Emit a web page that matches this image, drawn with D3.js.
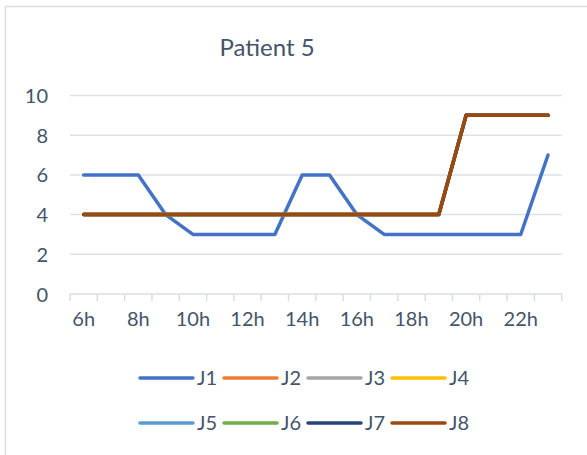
<!DOCTYPE html>
<html>
<head>
<meta charset="utf-8">
<script src="https://cdn.jsdelivr.net/npm/d3@7/dist/d3.min.js"></script>
<style>
  html, body { margin: 0; padding: 0; background: #fff; }
  svg { display: block; }
  text { font-family: Lato, "Open Sans", sans-serif; fill: #44546A; }
</style>
</head>
<body>
<svg id="chart" width="587" height="455"></svg>
<script>
const hours = ["6h","7h","8h","9h","10h","11h","12h","13h","14h","15h","16h","17h","18h","19h","20h","21h","22h","23h"];
const tickLabels = ["6h","8h","10h","12h","14h","16h","18h","20h","22h"];
const yTicks = [0, 2, 4, 6, 8, 10];
const seriesNames = ["J1","J2","J3","J4","J5","J6","J7","J8"];
const seriesColors = ["#4472C4","#ED7D31","#A5A5A5","#FFC000","#5B9BD5","#70AD47","#264478","#9E480E"];
const J1 = [6,6,6,4,3,3,3,3,6,6,4,3,3,3,3,3,3,7];
const J2 = [4,4,4,4,4,4,4,4,4,4,4,4,4,4,9,9,9,9];
const J3 = [4,4,4,4,4,4,4,4,4,4,4,4,4,4,9,9,9,9];
const J4 = [4,4,4,4,4,4,4,4,4,4,4,4,4,4,9,9,9,9];
const J5 = [4,4,4,4,4,4,4,4,4,4,4,4,4,4,9,9,9,9];
const J6 = [4,4,4,4,4,4,4,4,4,4,4,4,4,4,9,9,9,9];
const J7 = [4,4,4,4,4,4,4,4,4,4,4,4,4,4,9,9,9,9];
const J8 = [4,4,4,4,4,4,4,4,4,4,4,4,4,4,9,9,9,9];
const seriesValues = [J1,J2,J3,J4,J5,J6,J7,J8];

const svg = d3.select("#chart");

// chart frame
svg.append("rect")
  .attr("x", 5.5).attr("y", 6.5)
  .attr("width", 600).attr("height", 460)
  .attr("fill", "#fff")
  .attr("stroke", "#D9DDE4").attr("stroke-width", 1.5);

const x = d3.scaleBand().domain(hours).range([70, 561.7]).paddingInner(0).paddingOuter(0);
const y = d3.scaleLinear().domain([0, 10]).range([294, 95.5]);

// gridlines
svg.append("g")
  .selectAll("line")
  .data(yTicks.filter(d => d !== 0))
  .join("line")
  .attr("x1", 70).attr("x2", 561.7)
  .attr("y1", d => y(d)).attr("y2", d => y(d))
  .attr("stroke", "#DDE1E7").attr("stroke-width", 1.5);

// y axis labels
const yAxis = d3.axisLeft(y).tickValues(yTicks).tickSize(0).tickPadding(0);
const yg = svg.append("g").attr("transform", "translate(48,0)").call(yAxis);
yg.select(".domain").remove();
yg.selectAll("text").style("font-size", "20px").attr("fill", "#44546A").attr("dy", "0.35em")
  .style("font-family", "Lato, 'Open Sans', sans-serif");

// x axis line with ticks at band boundaries
const xg = svg.append("g");
xg.append("line")
  .attr("x1", 70).attr("x2", 561.7)
  .attr("y1", 294).attr("y2", 294)
  .attr("stroke", "#D9DDE4").attr("stroke-width", 1.5);
const boundaries = hours.map(h => x(h)).concat([x(hours[hours.length - 1]) + x.bandwidth()]);
xg.selectAll("line.tick")
  .data(boundaries)
  .join("line")
  .attr("class", "tick")
  .attr("x1", d => d).attr("x2", d => d)
  .attr("y1", 294).attr("y2", 301)
  .attr("stroke", "#D9DDE4").attr("stroke-width", 1.5);

// x labels
const xAxis = d3.axisBottom(x).tickValues(tickLabels).tickSize(0).tickPadding(0);
const xag = svg.append("g").attr("transform", "translate(0,312)").call(xAxis);
xag.select(".domain").remove();
xag.selectAll("text").style("font-size", "20px").attr("fill", "#44546A").attr("dy", "0.71em")
  .style("font-family", "Lato, 'Open Sans', sans-serif");

// title
svg.append("text")
  .attr("x", 267).attr("y", 56)
  .attr("text-anchor", "middle")
  .style("font-size", "24px")
  .text("Patient 5");

// lines
const line = d3.line()
  .x((d, i) => x(hours[i]) + x.bandwidth() / 2)
  .y(d => y(d));

svg.append("g")
  .selectAll("path")
  .data(seriesValues)
  .join("path")
  .attr("d", d => line(d))
  .attr("fill", "none")
  .attr("stroke", (d, i) => seriesColors[i])
  .attr("stroke-width", 3.5)
  .attr("stroke-linejoin", "round")
  .attr("stroke-linecap", "round");

// legend
const legend = svg.append("g");
const items = legend.selectAll("g")
  .data(seriesNames)
  .join("g")
  .attr("transform", (d, i) => `translate(${140 + (i % 4) * 84},${i < 4 ? 378 : 423})`);
items.append("line")
  .attr("x1", 0).attr("x2", 53)
  .attr("y1", 0).attr("y2", 0)
  .attr("stroke", (d, i) => seriesColors[i])
  .attr("stroke-width", 3.5)
  .attr("stroke-linecap", "round");
items.append("text")
  .attr("x", 57).attr("y", 0)
  .attr("dy", "0.35em")
  .style("font-size", "20px")
  .text(d => d);
</script>
</body>
</html>
